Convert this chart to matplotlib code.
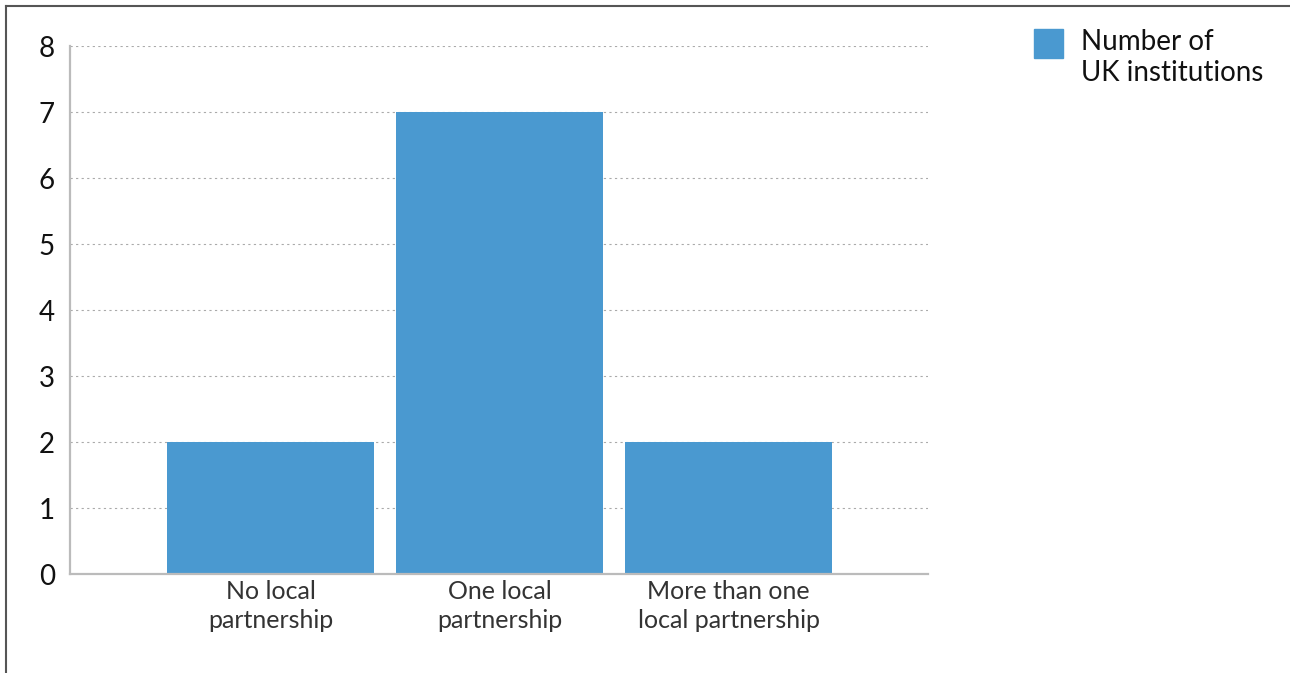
import matplotlib
matplotlib.use("Agg")
import matplotlib.pyplot as plt
from matplotlib.lines import Line2D
from matplotlib.patches import Rectangle

# data
categories = ["No local\npartnership", "One local\npartnership", "More than one\nlocal partnership"]
values = [2, 7, 2]
series_label = "Number of\nUK institutions"
yticks = [0, 1, 2, 3, 4, 5, 6, 7, 8]

bar_color = "#4A99D0"
plt.rcParams['font.family'] = ['Lato', 'DejaVu Sans']

fig = plt.figure(figsize=(12.9, 6.73), dpi=100)
ax = fig.add_axes([0.0543, 0.1471, 0.6651, 0.7845])

x = list(range(len(categories)))
ax.bar(x, values, width=0.904, color=bar_color, label=series_label, zorder=2)

ax.set_xlim(-0.8755, 2.871)
ax.set_ylim(0, 8)
ax.set_yticks(yticks)
ax.set_xticks(x)
ax.set_xticklabels(categories, fontsize=18, color="#333333", linespacing=1.35)
ax.tick_params(axis='y', length=0, pad=11, labelsize=20, labelcolor="#111111")
ax.tick_params(axis='x', length=0, pad=4)

# dotted grid
ax.yaxis.grid(True, linestyle=(0, (2, 3)), color="#aaaaaa", linewidth=0.8, zorder=0)
ax.set_axisbelow(True)

for side in ["top", "right"]:
    ax.spines[side].set_visible(False)
for side in ["left", "bottom"]:
    ax.spines[side].set_color("#bbbbbb")
    ax.spines[side].set_linewidth(1.6)

# legend at top right, square lined up with the first text line
fig.add_artist(Rectangle((0.8016, 0.9138), 0.0225, 0.0431, color=bar_color,
                         transform=fig.transFigure))
fig.text(0.838, 0.9562, series_label, fontsize=20, color="#111111",
         va="top", ha="left", linespacing=1.22)

# outer border (top and left only)
fig.add_artist(Line2D([0.0047, 1.0], [0.991, 0.991], color="#555555", linewidth=1.5, transform=fig.transFigure))
fig.add_artist(Line2D([0.0047, 0.0047], [0.0, 0.991], color="#555555", linewidth=1.5, transform=fig.transFigure))

fig.savefig("out.png", dpi=100)
